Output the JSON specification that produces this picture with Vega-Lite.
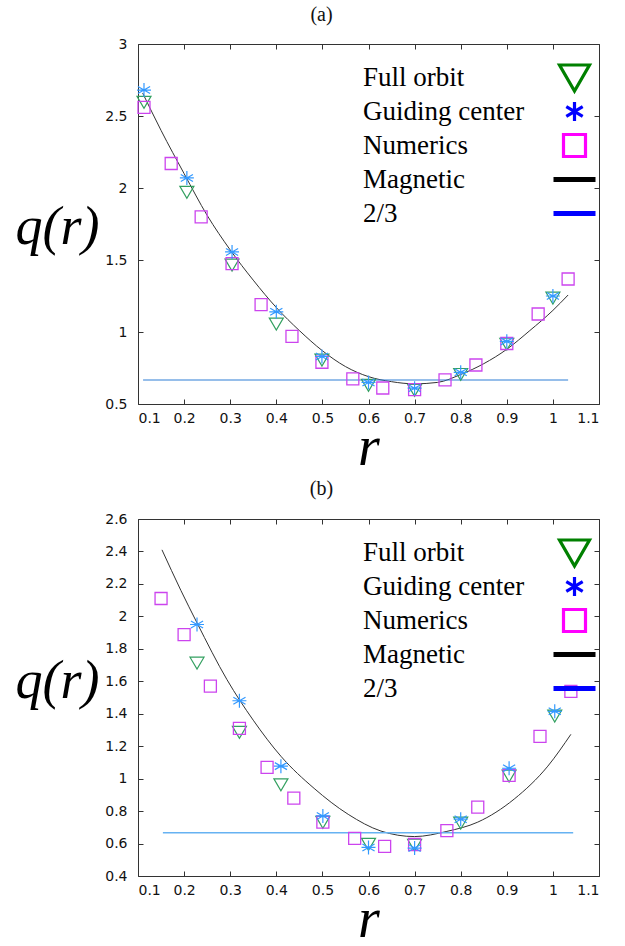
{
  "$schema": "https://vega.github.io/schema/vega-lite/v6.json",
  "padding": {"left": 14, "top": 4, "right": 5, "bottom": 0},
  "background": "white",
  "config": {
    "view": {"stroke": "#333", "strokeWidth": 1},
    "axis": {"grid": false, "domain": false, "labelFont": "DejaVu Sans", "labelFontSize": 14, "labelColor": "#111", "tickColor": "#333"},
    "line": {"interpolate": "monotone"},
    "legend": {"orient": "none", "title": null, "padding": 0, "labelFont": "Liberation Serif", "labelFontSize": 27, "labelColor": "#000", "labelLimit": 300, "rowPadding": -5, "gridAlign": "all", "symbolSize": 400, "symbolStrokeWidth": 3.2, "symbolOpacity": 1, "symbolOffset": 198, "labelOffset": -225}
  },
  "datasets": {
    "points": [
      {"panel": "a", "series": "Full orbit", "r": 0.113, "q": 2.60},
      {"panel": "a", "series": "Full orbit", "r": 0.206, "q": 1.975},
      {"panel": "a", "series": "Full orbit", "r": 0.304, "q": 1.47},
      {"panel": "a", "series": "Full orbit", "r": 0.40, "q": 1.06},
      {"panel": "a", "series": "Full orbit", "r": 0.499, "q": 0.81},
      {"panel": "a", "series": "Full orbit", "r": 0.60, "q": 0.635},
      {"panel": "a", "series": "Full orbit", "r": 0.70, "q": 0.60},
      {"panel": "a", "series": "Full orbit", "r": 0.80, "q": 0.71},
      {"panel": "a", "series": "Full orbit", "r": 0.90, "q": 0.92},
      {"panel": "a", "series": "Full orbit", "r": 1.00, "q": 1.24},
      {"panel": "a", "series": "Guiding center", "r": 0.113, "q": 2.68},
      {"panel": "a", "series": "Guiding center", "r": 0.206, "q": 2.07},
      {"panel": "a", "series": "Guiding center", "r": 0.304, "q": 1.556},
      {"panel": "a", "series": "Guiding center", "r": 0.40, "q": 1.14},
      {"panel": "a", "series": "Guiding center", "r": 0.499, "q": 0.83},
      {"panel": "a", "series": "Guiding center", "r": 0.60, "q": 0.65},
      {"panel": "a", "series": "Guiding center", "r": 0.70, "q": 0.61},
      {"panel": "a", "series": "Guiding center", "r": 0.80, "q": 0.72},
      {"panel": "a", "series": "Guiding center", "r": 0.90, "q": 0.935},
      {"panel": "a", "series": "Guiding center", "r": 1.00, "q": 1.25},
      {"panel": "a", "series": "Numerics", "r": 0.113, "q": 2.56},
      {"panel": "a", "series": "Numerics", "r": 0.172, "q": 2.17},
      {"panel": "a", "series": "Numerics", "r": 0.237, "q": 1.80},
      {"panel": "a", "series": "Numerics", "r": 0.304, "q": 1.475},
      {"panel": "a", "series": "Numerics", "r": 0.367, "q": 1.19},
      {"panel": "a", "series": "Numerics", "r": 0.434, "q": 0.97},
      {"panel": "a", "series": "Numerics", "r": 0.499, "q": 0.79},
      {"panel": "a", "series": "Numerics", "r": 0.566, "q": 0.674},
      {"panel": "a", "series": "Numerics", "r": 0.631, "q": 0.611},
      {"panel": "a", "series": "Numerics", "r": 0.70, "q": 0.60},
      {"panel": "a", "series": "Numerics", "r": 0.766, "q": 0.667},
      {"panel": "a", "series": "Numerics", "r": 0.833, "q": 0.771},
      {"panel": "a", "series": "Numerics", "r": 0.90, "q": 0.92},
      {"panel": "a", "series": "Numerics", "r": 0.968, "q": 1.125},
      {"panel": "a", "series": "Numerics", "r": 1.033, "q": 1.368},
      {"panel": "b", "series": "Full orbit", "r": 0.228, "q": 1.716},
      {"panel": "b", "series": "Full orbit", "r": 0.32, "q": 1.29},
      {"panel": "b", "series": "Full orbit", "r": 0.41, "q": 0.966},
      {"panel": "b", "series": "Full orbit", "r": 0.501, "q": 0.735},
      {"panel": "b", "series": "Full orbit", "r": 0.60, "q": 0.60},
      {"panel": "b", "series": "Full orbit", "r": 0.70, "q": 0.594},
      {"panel": "b", "series": "Full orbit", "r": 0.80, "q": 0.73},
      {"panel": "b", "series": "Full orbit", "r": 0.905, "q": 1.02},
      {"panel": "b", "series": "Full orbit", "r": 1.004, "q": 1.39},
      {"panel": "b", "series": "Guiding center", "r": 0.228, "q": 1.95},
      {"panel": "b", "series": "Guiding center", "r": 0.32, "q": 1.48},
      {"panel": "b", "series": "Guiding center", "r": 0.41, "q": 1.077},
      {"panel": "b", "series": "Guiding center", "r": 0.501, "q": 0.77},
      {"panel": "b", "series": "Guiding center", "r": 0.60, "q": 0.576},
      {"panel": "b", "series": "Guiding center", "r": 0.70, "q": 0.572},
      {"panel": "b", "series": "Guiding center", "r": 0.80, "q": 0.75},
      {"panel": "b", "series": "Guiding center", "r": 0.905, "q": 1.064},
      {"panel": "b", "series": "Guiding center", "r": 1.004, "q": 1.415},
      {"panel": "b", "series": "Numerics", "r": 0.15, "q": 2.11},
      {"panel": "b", "series": "Numerics", "r": 0.20, "q": 1.888},
      {"panel": "b", "series": "Numerics", "r": 0.257, "q": 1.57},
      {"panel": "b", "series": "Numerics", "r": 0.32, "q": 1.31},
      {"panel": "b", "series": "Numerics", "r": 0.38, "q": 1.07},
      {"panel": "b", "series": "Numerics", "r": 0.438, "q": 0.88},
      {"panel": "b", "series": "Numerics", "r": 0.501, "q": 0.732},
      {"panel": "b", "series": "Numerics", "r": 0.57, "q": 0.632},
      {"panel": "b", "series": "Numerics", "r": 0.635, "q": 0.583},
      {"panel": "b", "series": "Numerics", "r": 0.70, "q": 0.594},
      {"panel": "b", "series": "Numerics", "r": 0.77, "q": 0.68},
      {"panel": "b", "series": "Numerics", "r": 0.837, "q": 0.824},
      {"panel": "b", "series": "Numerics", "r": 0.905, "q": 1.02},
      {"panel": "b", "series": "Numerics", "r": 0.972, "q": 1.26},
      {"panel": "b", "series": "Numerics", "r": 1.039, "q": 1.538}
    ],
    "curves": [
      {"panel": "a", "series": "Magnetic", "r": 0.11, "q": 2.66},
      {"panel": "a", "series": "Magnetic", "r": 0.15, "q": 2.40},
      {"panel": "a", "series": "Magnetic", "r": 0.20, "q": 2.10},
      {"panel": "a", "series": "Magnetic", "r": 0.25, "q": 1.81},
      {"panel": "a", "series": "Magnetic", "r": 0.30, "q": 1.57},
      {"panel": "a", "series": "Magnetic", "r": 0.35, "q": 1.36},
      {"panel": "a", "series": "Magnetic", "r": 0.40, "q": 1.17},
      {"panel": "a", "series": "Magnetic", "r": 0.45, "q": 1.01},
      {"panel": "a", "series": "Magnetic", "r": 0.50, "q": 0.87},
      {"panel": "a", "series": "Magnetic", "r": 0.55, "q": 0.76},
      {"panel": "a", "series": "Magnetic", "r": 0.60, "q": 0.69},
      {"panel": "a", "series": "Magnetic", "r": 0.65, "q": 0.655},
      {"panel": "a", "series": "Magnetic", "r": 0.70, "q": 0.64},
      {"panel": "a", "series": "Magnetic", "r": 0.75, "q": 0.65},
      {"panel": "a", "series": "Magnetic", "r": 0.80, "q": 0.705},
      {"panel": "a", "series": "Magnetic", "r": 0.85, "q": 0.78},
      {"panel": "a", "series": "Magnetic", "r": 0.90, "q": 0.88},
      {"panel": "a", "series": "Magnetic", "r": 0.95, "q": 1.01},
      {"panel": "a", "series": "Magnetic", "r": 1.00, "q": 1.15},
      {"panel": "a", "series": "Magnetic", "r": 1.033, "q": 1.257},
      {"panel": "a", "series": "2/3", "r": 0.111, "q": 0.6667},
      {"panel": "a", "series": "2/3", "r": 1.033, "q": 0.6667},
      {"panel": "b", "series": "Magnetic", "r": 0.152, "q": 2.41},
      {"panel": "b", "series": "Magnetic", "r": 0.193, "q": 2.16},
      {"panel": "b", "series": "Magnetic", "r": 0.228, "q": 1.96},
      {"panel": "b", "series": "Magnetic", "r": 0.293, "q": 1.61},
      {"panel": "b", "series": "Magnetic", "r": 0.35, "q": 1.36},
      {"panel": "b", "series": "Magnetic", "r": 0.41, "q": 1.138},
      {"panel": "b", "series": "Magnetic", "r": 0.482, "q": 0.94},
      {"panel": "b", "series": "Magnetic", "r": 0.556, "q": 0.78},
      {"panel": "b", "series": "Magnetic", "r": 0.627, "q": 0.677},
      {"panel": "b", "series": "Magnetic", "r": 0.70, "q": 0.643},
      {"panel": "b", "series": "Magnetic", "r": 0.77, "q": 0.675},
      {"panel": "b", "series": "Magnetic", "r": 0.837, "q": 0.732},
      {"panel": "b", "series": "Magnetic", "r": 0.916, "q": 0.874},
      {"panel": "b", "series": "Magnetic", "r": 0.989, "q": 1.077},
      {"panel": "b", "series": "Magnetic", "r": 1.039, "q": 1.273},
      {"panel": "b", "series": "2/3", "r": 0.154, "q": 0.6667},
      {"panel": "b", "series": "2/3", "r": 1.044, "q": 0.6667}
    ]
  },
  "resolve": {"scale": {"color": "independent", "shape": "independent"}, "legend": {"color": "independent", "shape": "independent"}},
  "spacing": 2,
  "vconcat": [
    {
      "width": 461,
      "height": 360,
      "title": {"text": "(a)", "font": "Liberation Serif", "fontSize": 20, "fontWeight": "normal", "color": "#111", "anchor": "middle", "frame": "group", "dx": -47, "offset": 12},
      "resolve": {"axis": {"x": "independent", "y": "independent"}},
      "layer": [
        {
          "data": {"name": "points"},
          "transform": [{"filter": "datum.r < 0"}],
          "mark": {"type": "point", "filled": false, "size": 400, "strokeWidth": 3.2, "opacity": 1},
          "encoding": {
            "x": {"field": "r", "type": "quantitative", "scale": {"domain": [0.1, 1.1], "nice": false, "zero": false},
              "axis": {"orient": "bottom", "values": [0.1, 0.2, 0.3, 0.4, 0.5, 0.6, 0.7, 0.8, 0.9, 1, 1.1], "format": "~g", "tickSize": -5, "labelPadding": 12,
                "title": "r", "titleFont": "Liberation Serif", "titleFontStyle": "italic", "titleFontWeight": "normal", "titleFontSize": 56, "titleColor": "#000", "titleY": 60, "titleBaseline": "alphabetic"}},
            "y": {"field": "q", "type": "quantitative", "scale": {"domain": [0.5, 3], "nice": false, "zero": false},
              "axis": {"orient": "left", "values": [0.5, 1, 1.5, 2, 2.5, 3], "format": "~g", "tickSize": -5, "labelPadding": 16,
                "title": "q(r)", "titleFont": "Liberation Serif", "titleFontStyle": "italic", "titleFontWeight": "normal", "titleFontSize": 54, "titleColor": "#000", "titleAngle": 0, "titleX": -81, "titleY": 183, "titleAlign": "center", "titleBaseline": "middle"}},
            "color": {"field": "series", "type": "nominal",
              "scale": {"domain": ["Full orbit", "Guiding center", "Numerics", "Magnetic", "2/3"], "range": ["#008000", "#0000ff", "#ff00ff", "#000000", "#0000ff"]},
              "legend": {"orient": "none", "legendX": 225, "legendY": 20}},
            "shape": {"field": "series", "type": "nominal",
              "scale": {"domain": ["Full orbit", "Guiding center", "Numerics", "Magnetic", "2/3"], "range": ["M-1.5,-1.25L1.5,-1.25L0,1.35Z", "M0,-0.95L0,0.95M-0.82,-0.48L0.82,0.48M-0.82,0.48L0.82,-0.48", "M-1.1,-1.1H1.1V1.1H-1.1Z", "M-2.1,-0.08H2.1M-2.1,0.08H2.1", "M-2.1,-0.08H2.1M-2.1,0.08H2.1"]},
              "legend": {"orient": "none", "legendX": 225, "legendY": 20}}
          }
        },
        {
          "data": {"name": "curves"},
          "transform": [{"filter": "datum.panel === 'a' && datum.series === 'Magnetic'"}],
          "mark": {"type": "line", "color": "#333", "strokeWidth": 1},
          "encoding": {
            "x": {"field": "r", "type": "quantitative", "axis": {"orient": "top", "values": [0.1, 0.2, 0.3, 0.4, 0.5, 0.6, 0.7, 0.8, 0.9, 1, 1.1], "labels": false, "tickSize": -5, "title": null}},
            "y": {"field": "q", "type": "quantitative", "axis": {"orient": "right", "values": [0.5, 1, 1.5, 2, 2.5, 3], "labels": false, "tickSize": -5, "title": null}}
          }
        },
        {
          "data": {"name": "curves"},
          "transform": [{"filter": "datum.panel === 'a' && datum.series === '2/3'"}],
          "mark": {"type": "line", "color": "#2f7fd6", "strokeWidth": 1.2},
          "encoding": {
            "x": {"field": "r", "type": "quantitative", "axis": null},
            "y": {"field": "q", "type": "quantitative", "axis": null}
          }
        },
        {
          "data": {"name": "points"},
          "transform": [{"filter": "datum.panel === 'a' && datum.series === 'Full orbit'"}],
          "mark": {"type": "point", "filled": false, "shape": "M-1,-0.75L1,-0.75L0,0.95Z", "size": 196, "color": "#33a060", "strokeWidth": 1.2, "opacity": 1},
          "encoding": {
            "x": {"field": "r", "type": "quantitative", "axis": null},
            "y": {"field": "q", "type": "quantitative", "axis": null}
          }
        },
        {
          "data": {"name": "points"},
          "transform": [{"filter": "datum.panel === 'a' && datum.series === 'Numerics'"}],
          "mark": {"type": "point", "filled": false, "shape": "square", "size": 144, "color": "#cc44ee", "strokeWidth": 1.3, "opacity": 1},
          "encoding": {
            "x": {"field": "r", "type": "quantitative", "axis": null},
            "y": {"field": "q", "type": "quantitative", "axis": null}
          }
        },
        {
          "data": {"name": "points"},
          "transform": [{"filter": "datum.panel === 'a' && datum.series === 'Guiding center'"}],
          "mark": {"type": "point", "filled": false, "shape": "M0,-1L0,1M-0.87,-0.5L0.87,0.5M-0.87,0.5L0.87,-0.5M-1,0L1,0", "size": 196, "color": "#3399ff", "strokeWidth": 1.2, "opacity": 1},
          "encoding": {
            "x": {"field": "r", "type": "quantitative", "axis": null},
            "y": {"field": "q", "type": "quantitative", "axis": null}
          }
        }
      ]
    },
    {
      "width": 461,
      "height": 357,
      "title": {"text": "(b)", "font": "Liberation Serif", "fontSize": 20, "fontWeight": "normal", "color": "#111", "anchor": "middle", "frame": "group", "dx": -47, "offset": 13},
      "resolve": {"axis": {"x": "independent", "y": "independent"}},
      "layer": [
        {
          "data": {"name": "points"},
          "transform": [{"filter": "datum.r < 0"}],
          "mark": {"type": "point", "filled": false, "size": 400, "strokeWidth": 3.2, "opacity": 1},
          "encoding": {
            "x": {"field": "r", "type": "quantitative", "scale": {"domain": [0.1, 1.1], "nice": false, "zero": false},
              "axis": {"orient": "bottom", "values": [0.1, 0.2, 0.3, 0.4, 0.5, 0.6, 0.7, 0.8, 0.9, 1, 1.1], "format": "~g", "tickSize": -5, "labelPadding": 12,
                "title": "r", "titleFont": "Liberation Serif", "titleFontStyle": "italic", "titleFontWeight": "normal", "titleFontSize": 56, "titleColor": "#000", "titleY": 60, "titleBaseline": "alphabetic"}},
            "y": {"field": "q", "type": "quantitative", "scale": {"domain": [0.4, 2.6], "nice": false, "zero": false},
              "axis": {"orient": "left", "values": [0.4, 0.6, 0.8, 1, 1.2, 1.4, 1.6, 1.8, 2, 2.2, 2.4, 2.6], "format": "~g", "tickSize": -5, "labelPadding": 16,
                "title": "q(r)", "titleFont": "Liberation Serif", "titleFontStyle": "italic", "titleFontWeight": "normal", "titleFontSize": 54, "titleColor": "#000", "titleAngle": 0, "titleX": -81, "titleY": 162, "titleAlign": "center", "titleBaseline": "middle"}},
            "color": {"field": "series", "type": "nominal",
              "scale": {"domain": ["Full orbit", "Guiding center", "Numerics", "Magnetic", "2/3"], "range": ["#008000", "#0000ff", "#ff00ff", "#000000", "#0000ff"]},
              "legend": {"orient": "none", "legendX": 225, "legendY": 20}},
            "shape": {"field": "series", "type": "nominal",
              "scale": {"domain": ["Full orbit", "Guiding center", "Numerics", "Magnetic", "2/3"], "range": ["M-1.5,-1.25L1.5,-1.25L0,1.35Z", "M0,-0.95L0,0.95M-0.82,-0.48L0.82,0.48M-0.82,0.48L0.82,-0.48", "M-1.1,-1.1H1.1V1.1H-1.1Z", "M-2.1,-0.08H2.1M-2.1,0.08H2.1", "M-2.1,-0.08H2.1M-2.1,0.08H2.1"]},
              "legend": {"orient": "none", "legendX": 225, "legendY": 20}}
          }
        },
        {
          "data": {"name": "curves"},
          "transform": [{"filter": "datum.panel === 'b' && datum.series === 'Magnetic'"}],
          "mark": {"type": "line", "color": "#333", "strokeWidth": 1},
          "encoding": {
            "x": {"field": "r", "type": "quantitative", "axis": {"orient": "top", "values": [0.1, 0.2, 0.3, 0.4, 0.5, 0.6, 0.7, 0.8, 0.9, 1, 1.1], "labels": false, "tickSize": -5, "title": null}},
            "y": {"field": "q", "type": "quantitative", "axis": {"orient": "right", "values": [0.4, 0.6, 0.8, 1, 1.2, 1.4, 1.6, 1.8, 2, 2.2, 2.4, 2.6], "labels": false, "tickSize": -5, "title": null}}
          }
        },
        {
          "data": {"name": "curves"},
          "transform": [{"filter": "datum.panel === 'b' && datum.series === '2/3'"}],
          "mark": {"type": "line", "color": "#66b2f2", "strokeWidth": 1.5},
          "encoding": {
            "x": {"field": "r", "type": "quantitative", "axis": null},
            "y": {"field": "q", "type": "quantitative", "axis": null}
          }
        },
        {
          "data": {"name": "points"},
          "transform": [{"filter": "datum.panel === 'b' && datum.series === 'Full orbit'"}],
          "mark": {"type": "point", "filled": false, "shape": "M-1,-0.75L1,-0.75L0,0.95Z", "size": 196, "color": "#33a060", "strokeWidth": 1.2, "opacity": 1},
          "encoding": {
            "x": {"field": "r", "type": "quantitative", "axis": null},
            "y": {"field": "q", "type": "quantitative", "axis": null}
          }
        },
        {
          "data": {"name": "points"},
          "transform": [{"filter": "datum.panel === 'b' && datum.series === 'Numerics'"}],
          "mark": {"type": "point", "filled": false, "shape": "square", "size": 144, "color": "#cc44ee", "strokeWidth": 1.3, "opacity": 1},
          "encoding": {
            "x": {"field": "r", "type": "quantitative", "axis": null},
            "y": {"field": "q", "type": "quantitative", "axis": null}
          }
        },
        {
          "data": {"name": "points"},
          "transform": [{"filter": "datum.panel === 'b' && datum.series === 'Guiding center'"}],
          "mark": {"type": "point", "filled": false, "shape": "M0,-1L0,1M-0.87,-0.5L0.87,0.5M-0.87,0.5L0.87,-0.5M-1,0L1,0", "size": 196, "color": "#3399ff", "strokeWidth": 1.2, "opacity": 1},
          "encoding": {
            "x": {"field": "r", "type": "quantitative", "axis": null},
            "y": {"field": "q", "type": "quantitative", "axis": null}
          }
        }
      ]
    }
  ]
}
